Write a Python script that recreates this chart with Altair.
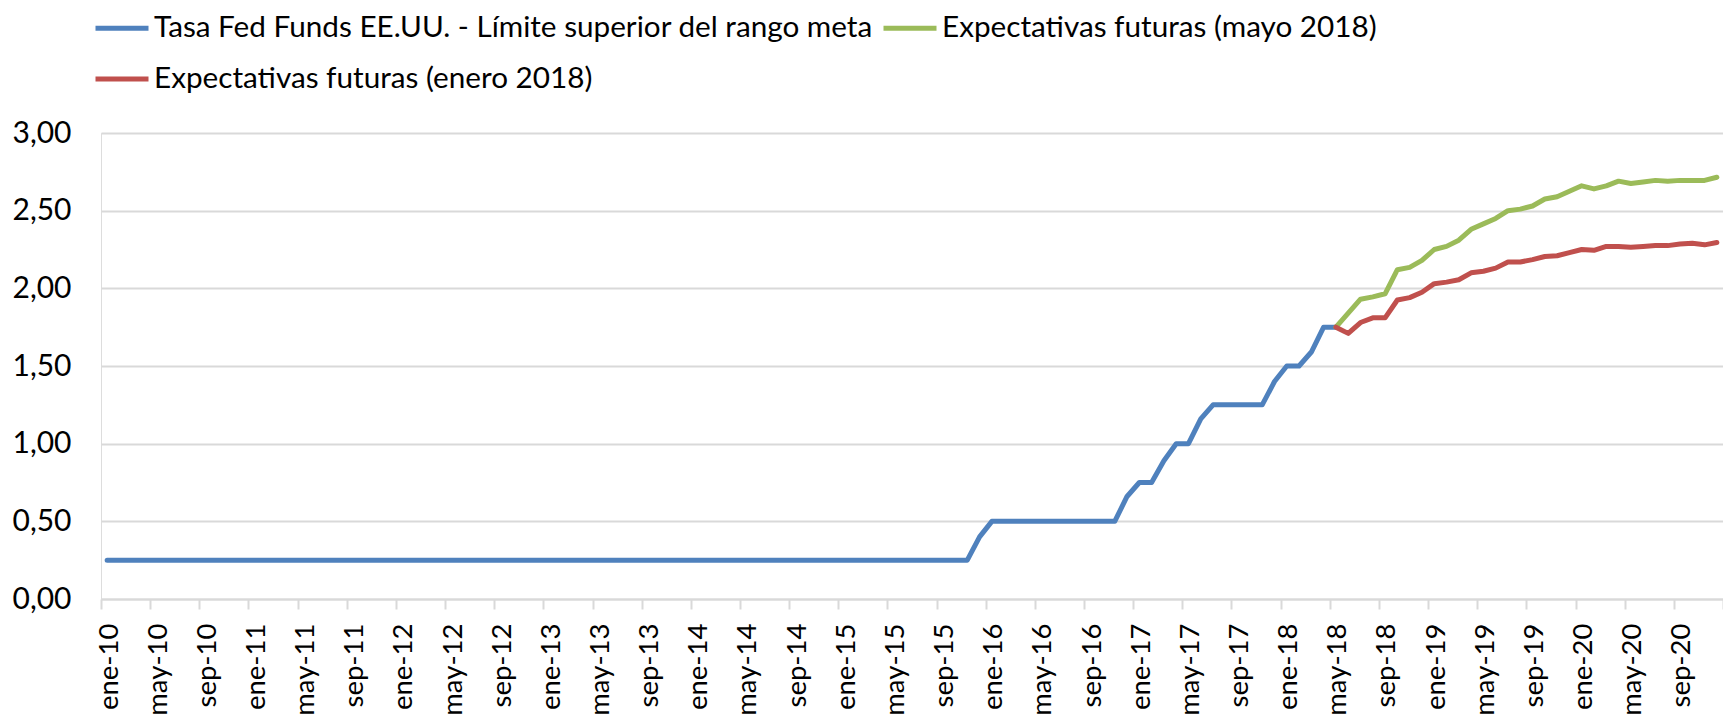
import json
import altair as alt
import pandas as pd

# ---- data ----
month_abbr = ["ene", "feb", "mar", "abr", "may", "jun", "jul", "ago", "sep", "oct", "nov", "dic"]
start_year = 10          # ene-10
n_months = 132           # ene-10 .. dic-20

name_fed = "Tasa Fed Funds EE.UU. - Límite superior del rango meta"
name_may = "Expectativas futuras (mayo 2018)"
name_ene = "Expectativas futuras (enero 2018)"

# legend is filled column by column: this order gives row 1 = fed, mayo ; row 2 = enero
legend_order = [name_fed, name_ene, name_may]
legend_colors = ["#4F81BD", "#C0504D", "#9BBB59"]

# Fed funds upper limit, monthly from ene-10 (index 0) to may-18 (index 100)
fed_2010 = [0.25, 0.25, 0.25, 0.25, 0.25, 0.25, 0.25, 0.25, 0.25, 0.25, 0.25, 0.25]
fed_2011 = [0.25, 0.25, 0.25, 0.25, 0.25, 0.25, 0.25, 0.25, 0.25, 0.25, 0.25, 0.25]
fed_2012 = [0.25, 0.25, 0.25, 0.25, 0.25, 0.25, 0.25, 0.25, 0.25, 0.25, 0.25, 0.25]
fed_2013 = [0.25, 0.25, 0.25, 0.25, 0.25, 0.25, 0.25, 0.25, 0.25, 0.25, 0.25, 0.25]
fed_2014 = [0.25, 0.25, 0.25, 0.25, 0.25, 0.25, 0.25, 0.25, 0.25, 0.25, 0.25, 0.25]
fed_2015 = [0.25, 0.25, 0.25, 0.25, 0.25, 0.25, 0.25, 0.25, 0.25, 0.25, 0.25, 0.40]
fed_2016 = [0.50, 0.50, 0.50, 0.50, 0.50, 0.50, 0.50, 0.50, 0.50, 0.50, 0.50, 0.66]
fed_2017 = [0.75, 0.75, 0.89, 1.00, 1.00, 1.16, 1.25, 1.25, 1.25, 1.25, 1.25, 1.40]
fed_2018 = [1.50, 1.50, 1.59, 1.75, 1.75]
fed_values = fed_2010 + fed_2011 + fed_2012 + fed_2013 + fed_2014 + fed_2015 + fed_2016 + fed_2017 + fed_2018

# Futures expectations from may-18 (index 100) to dic-20 (index 131)
exp_start = 100
exp_may18 = [1.75, 1.84, 1.93, 1.945, 1.965, 2.12, 2.135, 2.18, 2.25, 2.27, 2.31, 2.38,
             2.415, 2.45, 2.50, 2.51, 2.53, 2.575, 2.59, 2.625, 2.66, 2.64, 2.66, 2.69,
             2.675, 2.685, 2.695, 2.69, 2.695, 2.695, 2.695, 2.715]
exp_ene18 = [1.75, 1.71, 1.78, 1.81, 1.81, 1.925, 1.94, 1.975, 2.03, 2.04, 2.055, 2.10,
             2.11, 2.13, 2.17, 2.17, 2.185, 2.205, 2.21, 2.23, 2.25, 2.245, 2.27, 2.27,
             2.265, 2.27, 2.275, 2.275, 2.285, 2.29, 2.28, 2.295]

y_ticks = [0.0, 0.5, 1.0, 1.5, 2.0, 2.5, 3.0]

# ---- build table ----
rows = []
for i, v in enumerate(fed_values):
    rows.append({"idx": i, "serie": name_fed, "valor": v})
for i, v in enumerate(exp_may18):
    rows.append({"idx": exp_start + i, "serie": name_may, "valor": v})
for i, v in enumerate(exp_ene18):
    rows.append({"idx": exp_start + i, "serie": name_ene, "valor": v})
df = pd.DataFrame(rows)

FONT = "Lato"
FS = 30
FS_X = 27.5
FS_LEG = 29.7

x_tick_values = [k - 0.5 for k in range(0, n_months + 1, 4)]
label_expr = (
    f"datum.value > {n_months - 1} ? '' : "
    f"{json.dumps(month_abbr)}[(datum.value + 0.5) % 12] + '-' + "
    f"({start_year} + floor((datum.value + 0.5) / 12))"
)

chart = (
    alt.Chart(df)
    .mark_line(strokeWidth=5, strokeCap="round", strokeJoin="round")
    .encode(
        x=alt.X(
            "idx:Q",
            scale=alt.Scale(domain=[-0.5, n_months - 0.5], nice=False, zero=False),
            axis=alt.Axis(
                title=None,
                values=x_tick_values,
                labelExpr=label_expr,
                labelAngle=270,
                labelAlign="right",
                labelBaseline="middle",
                labelOffset=8,
                labelPadding=14,
                labelFont=FONT,
                labelFontSize=FS_X,
                labelColor="#000000",
                labelOverlap=False,
                labelFlush=False,
                domainColor="#D9D9D9",
                domainWidth=2,
                tickColor="#D9D9D9",
                tickWidth=2,
                tickSize=10,
                grid=False,
            ),
        ),
        y=alt.Y(
            "valor:Q",
            scale=alt.Scale(domain=[0, 3], nice=False),
            axis=alt.Axis(
                title=None,
                values=y_ticks,
                labelExpr="replace(format(datum.value, '.2f'), '.', ',')",
                labelFont=FONT,
                labelFontSize=FS,
                labelColor="#000000",
                labelPadding=30,
                domain=False,
                ticks=False,
                grid=True,
                gridColor="#D9D9D9",
                gridWidth=2,
            ),
        ),
        color=alt.Color(
            "serie:N",
            scale=alt.Scale(domain=legend_order, range=legend_colors),
            legend=alt.Legend(
                title=None,
                orient="none",
                legendX=-8,
                legendY=-134,
                columns=2,
                symbolType="stroke",
                symbolSize=2809,
                symbolStrokeWidth=5,
                labelFont=FONT,
                labelFontSize=FS_LEG,
                labelColor="#000000",
                labelLimit=2000,
                labelOffset=3,
                rowPadding=7,
                columnPadding=0,
                padding=0,
            ),
        ),
    )
    .properties(
        width=1622,
        height=466,
        autosize=alt.AutoSizeParams(type="none"),
        padding={"left": 93, "top": 125, "right": 0, "bottom": 118},
    )
    .configure_view(stroke=None)
    .configure(background="#FFFFFF")
)

chart.save("out.html", embed_options={"renderer": "svg", "actions": False})
